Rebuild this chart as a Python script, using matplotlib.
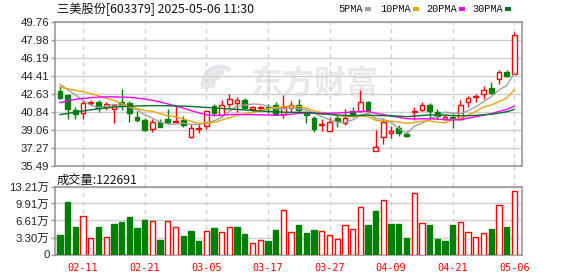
import numpy as np
import pandas as pd
import matplotlib
matplotlib.use("Agg")
import matplotlib.pyplot as plt
from matplotlib.patches import Rectangle, Arc

# ---------------- data ----------------
dates = ['02-06', '02-07', '02-10', '02-11', '02-12', '02-13', '02-14', '02-17', '02-18', '02-19',
         '02-20', '02-21', '02-24', '02-25', '02-26', '02-27', '02-28', '03-03', '03-04', '03-05',
         '03-06', '03-07', '03-10', '03-11', '03-12', '03-13', '03-14', '03-17', '03-18', '03-19',
         '03-20', '03-21', '03-24', '03-25', '03-26', '03-27', '03-28', '03-31', '04-01', '04-02',
         '04-03', '04-07', '04-08', '04-09', '04-10', '04-11', '04-14', '04-15', '04-16', '04-17',
         '04-18', '04-21', '04-22', '04-23', '04-24', '04-25', '04-28', '04-29', '04-30', '05-06']

open_ = [42.90, 42.50, 41.00, 40.70, 41.65, 41.80, 41.34, 41.14, 41.75, 41.70,
         40.30, 40.05, 39.10, 39.85, 40.10, 39.85, 40.00, 38.35, 39.10, 39.42,
         41.35, 40.55, 41.60, 41.70, 42.00, 41.10, 41.15, 41.30, 41.45, 40.65,
         41.20, 41.50, 40.70, 40.25, 39.50, 38.95, 40.20, 39.70, 40.85, 40.90,
         41.75, 36.95, 38.30, 38.70, 39.25, 38.65, 40.80, 41.00, 41.45, 40.80,
         40.15, 40.30, 40.15, 41.75, 42.25, 42.60, 43.15, 44.10, 44.75, 44.60]
high = [43.40, 42.60, 41.30, 42.00, 42.00, 42.00, 41.80, 41.60, 43.05, 41.85,
        40.85, 40.20, 40.15, 40.15, 41.10, 41.40, 40.40, 39.60, 39.75, 41.00,
        41.60, 42.00, 42.60, 42.30, 42.20, 41.40, 41.40, 41.60, 41.75, 42.45,
        41.90, 42.10, 40.90, 40.40, 40.10, 40.30, 40.55, 41.05, 41.30, 43.00,
        41.90, 39.00, 40.20, 39.40, 39.50, 38.95, 41.30, 41.75, 41.70, 41.10,
        40.60, 40.65, 41.95, 42.40, 42.55, 43.40, 43.80, 44.95, 44.95, 48.70]
low = [42.10, 40.10, 40.10, 40.15, 41.45, 40.80, 40.95, 39.70, 41.00, 39.80,
       39.80, 38.95, 38.86, 39.30, 39.60, 39.80, 39.30, 38.20, 38.75, 39.15,
       40.40, 40.35, 41.20, 40.75, 41.10, 40.80, 40.90, 40.70, 40.50, 40.25,
       40.80, 40.70, 39.75, 38.85, 38.90, 38.90, 39.30, 39.55, 40.30, 40.80,
       40.75, 36.90, 37.60, 38.20, 38.40, 38.30, 40.00, 40.90, 40.20, 40.10,
       40.00, 39.20, 40.05, 41.25, 41.75, 42.05, 42.60, 43.55, 44.25, 44.55]
close = [42.15, 41.05, 40.60, 41.70, 41.75, 41.15, 41.64, 41.50, 41.35, 40.70,
         40.00, 39.05, 39.85, 39.35, 39.80, 39.95, 39.55, 39.25, 39.20, 40.90,
         40.70, 41.45, 42.05, 42.00, 41.20, 41.25, 41.30, 41.15, 40.65, 41.30,
         41.50, 41.00, 40.55, 39.10, 39.60, 39.85, 39.90, 40.20, 40.50, 41.75,
         41.00, 37.30, 39.85, 38.95, 38.75, 38.45, 40.85, 41.45, 40.90, 40.40,
         40.35, 40.25, 41.45, 42.15, 42.35, 42.95, 42.65, 44.80, 44.35, 48.40]
prev_close = 42.90  # close before the first shown day

# volume in 万 (10k shares)
volume = [3.77, 10.28, 5.33, 7.43, 3.13, 5.33, 3.32, 5.92, 6.31, 7.29,
          5.14, 6.70, 6.45, 2.79, 6.45, 5.28, 3.58, 4.55, 2.60, 4.49,
          5.14, 4.30, 5.28, 5.33, 3.97, 2.15, 2.74, 2.60, 4.75, 8.66,
          4.30, 5.73, 4.16, 4.75, 4.49, 3.71, 2.93, 5.67, 4.94, 9.18,
          5.73, 8.46, 10.55, 5.92, 5.92, 3.19, 11.92, 6.06, 5.73, 2.99,
          2.60, 5.73, 6.25, 4.30, 3.32, 4.10, 4.94, 9.57, 5.33, 12.2691]

# moving-average values before a full window exists
ma5_head = [43.55, 43.00, 42.50, 41.95]
ma10_head = [43.28, 43.10, 42.95, 42.80, 42.62, 42.40, 42.18, 41.95, 41.65]
ma20_head = [41.73, 41.90, 42.05, 42.15, 42.22, 42.27, 42.30, 42.30, 42.28, 42.25,
             42.18, 42.08, 41.95, 41.80, 41.60, 41.40, 41.18, 40.95, 40.72]
ma30_head = [40.54, 40.65, 40.78, 40.90, 41.02, 41.12, 41.20, 41.28, 41.33, 41.37,
             41.40, 41.42, 41.43, 41.43, 41.42, 41.40, 41.38, 41.35, 41.30, 41.25,
             41.20, 41.15, 41.10, 41.05, 41.00, 40.95, 40.90, 40.86, 40.82]

price_ticks = [35.49, 37.27, 39.06, 40.84, 42.63, 44.41, 46.19, 47.98, 49.76]
price_tick_labels = ['35.49', '37.27', '39.06', '40.84', '42.63', '44.41', '46.19', '47.98', '49.76']
vol_ticks = [0, 3.30, 6.61, 9.91, 13.21]
vol_tick_labels = ['0', '3.30万', '6.61万', '9.91万', '13.21万']
date_label_idx = [3, 11, 19, 27, 35, 43, 51, 59]

title_text = '三美股份[603379] 2025-05-06 11:30'
vol_title = '成交量:122691'
ma_names = ['5PMA', '10PMA', '20PMA', '30PMA']
watermark = '东方财富'

# ---------------- style ----------------
RED = '#ff0000'
GREEN = '#008000'
MA_COLORS = ['#a0a0a0', '#f0a30a', '#ff00ff', '#00702e']
GRID = '#cfcfcf'
SPINE = '#999999'
CJK = ['Noto Sans CJK SC', 'DejaVu Sans']
NUM = ['Liberation Sans', 'Noto Sans CJK SC', 'DejaVu Sans']

W, H = 578, 276
def fx(px):
    return px / W
def fy(py):
    return 1 - py / H

fig = plt.figure(figsize=(W / 100, H / 100), dpi=100)
fig.patch.set_facecolor('white')

L, R = 55, 522
ax = fig.add_axes([fx(L), fy(165.5), fx(R) - fx(L), fy(21.7) - fy(165.5)])
axv = fig.add_axes([fx(L), fy(254.5), fx(R) - fx(L), fy(186.5) - fy(254.5)])

o = np.array(open_); h = np.array(high); lo = np.array(low); c = np.array(close)
v = np.array(volume)
x = np.arange(len(c))

# watermark (behind everything)
ax.text(fx(314), fy(85), watermark, transform=fig.transFigure, fontsize=23,
        fontweight='bold', color='#e9e9ed', ha='center', va='center',
        family=CJK, zorder=0)
for k, (w_, a1, a2) in enumerate([(34, 110, 250), (24, 120, 260), (14, 130, 270)]):
    ax.add_patch(Arc((fx(220), fy(84)), w_ / W, w_ / H, theta1=a1 - 40, theta2=a2 - 40,
                     transform=fig.transFigure, color='#e6e6ea', lw=3.5, zorder=0))

# candles
up = c >= o
cols = np.where(up, RED, GREEN)
ax.vlines(x, lo, h, colors=cols, lw=1, zorder=3)
body_h = np.maximum(np.abs(c - o), 0.035)
ax.bar(x, body_h, bottom=np.minimum(o, c), width=0.62,
       color=np.where(up, 'white', GREEN), edgecolor=cols, linewidth=1, zorder=4)

# moving averages
s = pd.Series(c)
mas = []
for n, head in zip([5, 10, 20, 30], [ma5_head, ma10_head, ma20_head, ma30_head]):
    m = s.rolling(n).mean().to_numpy()
    m[:n - 1] = head
    mas.append(m)
for m, col in zip(mas, MA_COLORS):
    ax.plot(x, m, color=col, lw=1, zorder=5)

ax.set_xlim(-0.65, 60.0)
ax.set_ylim(price_ticks[0], price_ticks[-1])
ax.set_yticks(price_ticks)
ax.set_yticklabels(price_tick_labels, family=NUM, fontsize=8.2, color='#222222')
ax.set_xticks(date_label_idx)
ax.tick_params(axis='x', length=0, labelbottom=False)
ax.tick_params(axis='y', length=3, width=1, color=SPINE, pad=1)
ax.yaxis.grid(True, color=GRID, lw=1, ls='-')
ax.xaxis.grid(True, color=GRID, lw=1, ls=(0, (3, 3)))
ax.set_axisbelow(True)
for sp in ax.spines.values():
    sp.set_color(SPINE)
    sp.set_linewidth(1.2)

# volume
prev = np.concatenate([[prev_close], c[:-1]])
vup = c > prev
axv.bar(x, v, width=0.7, color=np.where(vup, 'white', GREEN),
        edgecolor=np.where(vup, RED, GREEN), linewidth=1, zorder=3)
axv.set_xlim(-0.65, 60.0)
axv.set_ylim(vol_ticks[0], vol_ticks[-1])
axv.set_yticks(vol_ticks)
axv.set_yticklabels(vol_tick_labels, family=NUM, fontsize=8.2, color='#222222')
axv.set_xticks(date_label_idx)
axv.set_xticklabels([dates[i] for i in date_label_idx], family='DejaVu Sans Mono',
                    fontsize=7.4, color=RED)
axv.tick_params(axis='x', length=0, pad=6)
axv.tick_params(axis='y', length=3, width=1, color=SPINE, pad=1)
axv.yaxis.grid(True, color=GRID, lw=1, ls='-')
axv.xaxis.grid(True, color=GRID, lw=1, ls=(0, (3, 3)))
axv.set_axisbelow(True)
for sp in axv.spines.values():
    sp.set_color(SPINE)
    sp.set_linewidth(1.2)

# dashed verticals in the gap between panels
for i in date_label_idx:
    xp = L + (i + 0.65) / 60.65 * (R - L)
    fig.add_artist(plt.Line2D([fx(xp), fx(xp)], [fy(165.5), fy(186.5)],
                              transform=fig.transFigure, color=GRID, lw=1,
                              ls=(0, (3, 3)), zorder=0))

# texts
fig.text(fx(57), fy(9), title_text, family=CJK, fontsize=8.8, color='#111111',
         ha='left', va='center')
fig.text(fx(57), fy(180), vol_title, family=CJK, fontsize=8.8, color='#111111',
         ha='left', va='center')

leg_text_x = [338, 380, 426, 472]
leg_box_x = [365, 413, 459, 505]
for name, tx, bx, col in zip(ma_names, leg_text_x, leg_box_x, MA_COLORS):
    fig.text(fx(tx), fy(9), name, family=['Liberation Mono', 'DejaVu Sans Mono'],
             fontsize=7.4, color='#111111', ha='left', va='center')
    fig.add_artist(Rectangle((fx(bx), fy(10.5)), 6 / W, 3.5 / H, transform=fig.transFigure,
                             facecolor=col, edgecolor='none'))

fig.savefig('out.png', dpi=100, facecolor='white')
